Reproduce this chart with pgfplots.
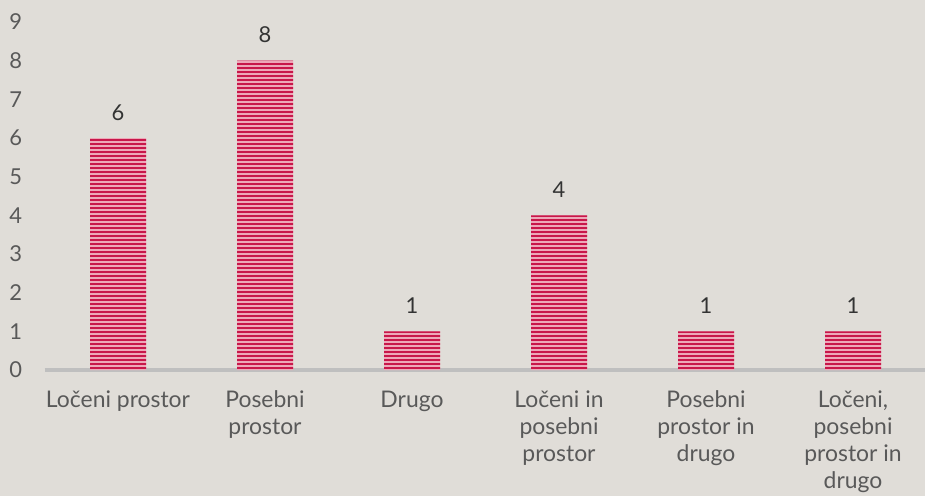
\documentclass[border=0pt]{standalone}
\usepackage{pgfplots}
\pgfplotsset{compat=1.18}
\usepackage{fontspec}
\setmainfont{Lato}
\usetikzlibrary{patterns.meta}
\definecolor{bg}{HTML}{E0DDD8}
\definecolor{barc}{HTML}{C8174A}
\definecolor{barl}{HTML}{EDA8B8}
\definecolor{txt}{HTML}{595959}
\definecolor{axc}{HTML}{BFBFBF}
\begin{document}
\begin{tikzpicture}
\useasboundingbox (0,0) rectangle (925bp,496bp);
\fill[bg] (0,0) rectangle (925bp,496bp);
\begin{axis}[
  at={(44.5bp,126bp)}, anchor=south west,
  width=882bp, height=348bp, scale only axis,
  xmin=-0.5, xmax=5.5, ymin=0, ymax=9,
  ybar, bar width=56bp, bar shift=0pt,
  axis x line*=bottom, axis y line*=left,
  x axis line style={draw=axc, line width=3bp},
  y axis line style={draw=none},
  tick style={draw=none},
  xtick=data,
  xticklabels={Ločeni prostor, Posebni\\prostor, Drugo, Ločeni in\\posebni\\prostor, Posebni\\prostor in\\drugo, {Ločeni,\\posebni\\prostor in\\drugo}},
  xticklabel style={align=center, font=\fontsize{23}{27}\selectfont, text=txt, yshift=-13bp},
  ytick={0,1,...,9},
  yticklabel style={font=\fontsize{22}{24}\selectfont, text=txt, xshift=-19bp},
  /pgf/number format/assume math mode=true,
  nodes near coords,
  nodes near coords style={font=\fontsize{22}{24}\selectfont, text=black!80, yshift=14bp},
  clip=false,
]
\addplot[draw=none, fill=barl, postaction={pattern={Lines[angle=0, distance=4bp, line width=2.3bp]}, pattern color=barc}]
  coordinates {(0,6) (1,8) (2,1) (3,4) (4,1) (5,1)};
\end{axis}
\end{tikzpicture}
\end{document}
